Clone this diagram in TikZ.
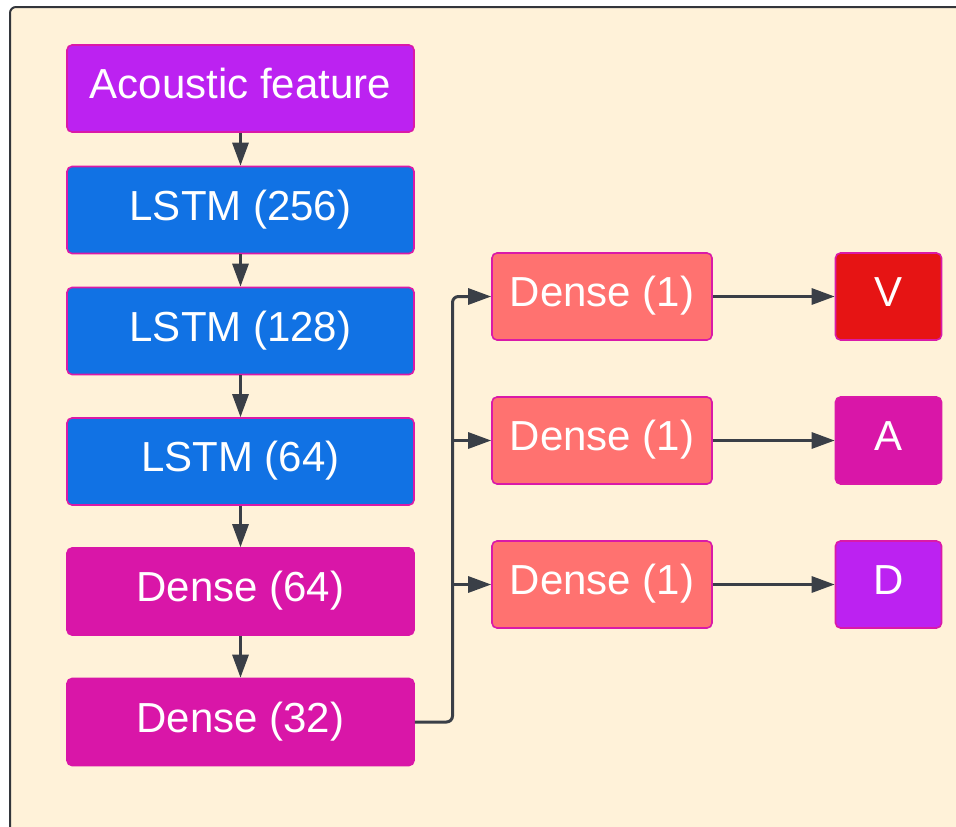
\documentclass[tikz,border=0pt]{standalone}
\usepackage{fontspec}
\setmainfont{Liberation Sans}
\usepackage{tikz}
\usetikzlibrary{arrows.meta,positioning,calc}
\definecolor{panelbg}{HTML}{FFF2D9}
\definecolor{paneledge}{HTML}{33363B}
\definecolor{wire}{HTML}{3A3F47}
\definecolor{lucidpurple}{HTML}{BC22F1}
\definecolor{lucidblue}{HTML}{1172E4}
\definecolor{lucidmagenta}{HTML}{D916A8}
\definecolor{lucidsalmon}{HTML}{FF7270}
\definecolor{lucidred}{HTML}{E61414}
\definecolor{rim}{HTML}{DA1AA8}
\tikzset{
  >={Triangle[length=23pt,width=16pt]},
  % lager
  layer/.style={draw=rim,line width=1.6pt,rounded corners=5pt,text=white,
                font=\fontsize{42}{50}\selectfont,inner sep=0pt,
                text height=30pt,text depth=10pt},
  wide/.style={layer,minimum width=347pt,minimum height=87pt},
  head/.style={layer,minimum width=220pt,minimum height=87pt,fill=lucidsalmon},
  outp/.style={layer,minimum width=106pt,minimum height=87pt},
  % pilar
  flow/.style={->,draw=wire,line width=3pt},
}
\begin{document}
\begin{tikzpicture}[x=1pt,y=-1pt]
\useasboundingbox (0,0) rectangle (956,827);
  \begin{scope}
    \clip (0,0) rectangle (956,827);
    \draw[draw=paneledge,fill=panelbg,line width=2pt,rounded corners=6pt]
      (10,7) rectangle (980,850);
  \end{scope}
  % vänstra kolumnen
  \node[wide,fill=lucidpurple] (feat) at (240.5,88.5) {Acoustic feature};
  \node[wide,fill=lucidblue] (l256) at (240.5,210) {LSTM (256)};
  \node[wide,fill=lucidblue] (l128) at (240.5,331) {LSTM (128)};
  \node[wide,fill=lucidblue] (l64) at (240.5,461.5) {LSTM (64)};
  \node[wide,fill=lucidmagenta,draw=lucidmagenta] (d64) at (240.5,591.5) {Dense (64)};
  \node[wide,fill=lucidmagenta,draw=lucidmagenta] (d32) at (240.5,722) {Dense (32)};
  % huvuden
  \node[head] (hv) at (602,296.5) {Dense (1)};
  \node[head] (ha) at (602,440.5) {Dense (1)};
  \node[head] (hd) at (602,584.5) {Dense (1)};
  \node[outp,fill=lucidred] (v) at (888.5,296.5) {V};
  \node[outp,fill=lucidmagenta] (a) at (888.5,440.5) {A};
  \node[outp,fill=lucidpurple] (d) at (888.5,584.5) {D};
  \coordinate (bus) at (452.5,0);
  \draw[flow] (feat) -- (l256);
  \draw[flow] (l256) -- (l128);
  \draw[flow] (l128) -- (l64);
  \draw[flow] (l64) -- (d64);
  \draw[flow] (d64) -- (d32);
  \draw[flow,rounded corners=6pt] (d32.east) -| (bus |- hv.west) -- (hv.west);
  \draw[flow] (bus |- ha.west) -- (ha.west);
  \draw[flow] (bus |- hd.west) -- (hd.west);
  \draw[flow] (hv) -- (v);
  \draw[flow] (ha) -- (a);
  \draw[flow] (hd) -- (d);
\end{tikzpicture}
\end{document}
